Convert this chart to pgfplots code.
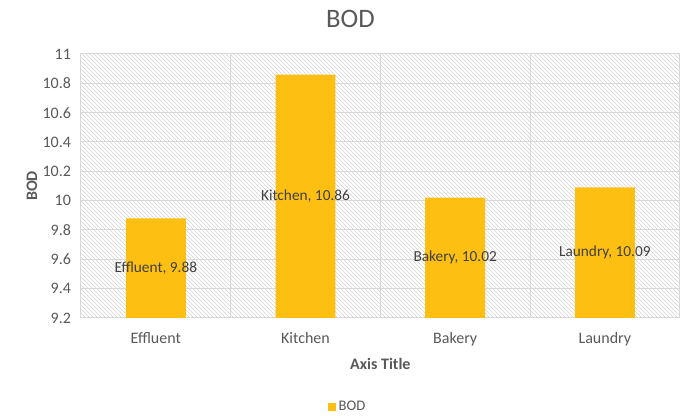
\documentclass[border=0pt]{standalone}
\usepackage{fontspec}
\setmainfont{Carlito}
\usepackage{pgfplots}
\pgfplotsset{compat=1.18}
\usetikzlibrary{patterns}
\definecolor{gridc}{HTML}{D9D9D9}
\definecolor{txtc}{HTML}{595959}
\definecolor{lblc}{HTML}{404040}
\definecolor{barc}{HTML}{FDC012}
\definecolor{hatchc}{HTML}{D4D4D4}
\pgfplotstableread{
x y label
0 9.88 {Effluent, 9.88}
1 10.86 {Kitchen, 10.86}
2 10.02 {Bakery, 10.02}
3 10.09 {Laundry, 10.09}
}\bodtable
\begin{document}
\begin{tikzpicture}
\begin{axis}[
  scale only axis,
  width=449pt, height=198pt,
  xmin=-0.5, xmax=3.5,
  ymin=9.2, ymax=11,
  ytick={9.2,9.4,9.6,9.8,10,10.2,10.4,10.6,10.8,11},
  yticklabels={9.2,9.4,9.6,9.8,10,10.2,10.4,10.6,10.8,11},
  xtick={0,1,2,3},
  xticklabels={Effluent,Kitchen,Bakery,Laundry},
  minor xtick={0.5,1.5,2.5},
  ymajorgrids, xminorgrids,
  major grid style={gridc, line width=0.75pt},
  minor grid style={gridc, line width=0.75pt},
  axis line style={gridc, line width=0.75pt},
  major tick length=0pt, minor tick length=0pt,
  tick label style={font=\fontsize{12}{14}\selectfont, text=txtc},
  /pgf/number format/assume math mode=true,
  yticklabel style={xshift=-4pt},
  xticklabel style={yshift=-7pt},
  axis background/.style={pattern=north west lines, pattern color=hatchc},
  title={BOD},
  title style={font=\fontsize{20}{22}\selectfont, text=txtc, at={(0.45,1)}, anchor=center, yshift=20pt},
  xlabel={Axis Title},
  ylabel={BOD},
  xlabel style={font=\bfseries\fontsize{12}{14}\selectfont, text=txtc, at={(0.5,0)}, anchor=center, yshift=-34.5pt},
  ylabel style={font=\bfseries\fontsize{12}{14}\selectfont, text=txtc, at={(axis description cs:-0.082,0.5)}, anchor=center},
  legend style={draw=none, at={(0.446,0)}, anchor=center, yshift=-66.75pt, font=\fontsize{11}{13}\selectfont, text=txtc, inner sep=0pt, legend cell align=left},
  legend image code/.code={\fill[barc] (0pt,-3pt) rectangle (6pt,3pt);},
  legend style={/tikz/every odd column/.append style={column sep=0pt}},
]
\addplot[ybar, bar width=0.4, fill=barc, draw=none,
  point meta=explicit symbolic,
  visualization depends on={y \as \rawy},
  nodes near coords,
  every node near coord/.append style={anchor=center, font=\fontsize{11.5}{13}\selectfont, text=lblc, yshift={-(\rawy-9.2)*55pt}}
] table[x=x, y=y, meta=label] {\bodtable};
\addlegendentry{BOD}
\end{axis}
\path (current axis.south west) ++(-60.75pt,-73.5pt) rectangle ++(522pt,312pt);
\end{tikzpicture}
\end{document}
